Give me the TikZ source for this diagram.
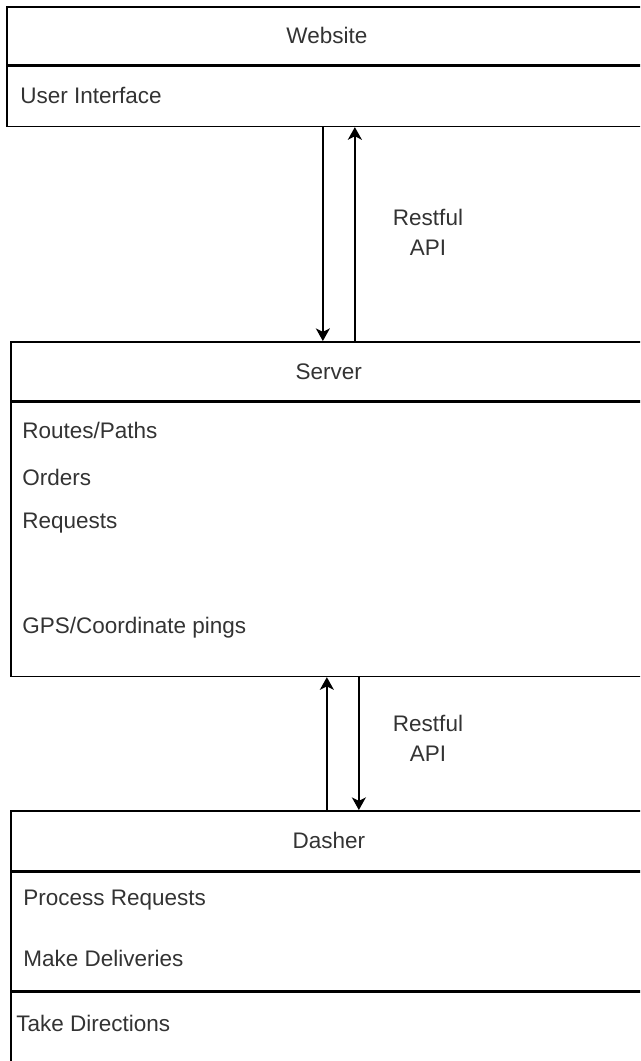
\documentclass[tikz,border=0pt]{standalone}
\usepackage{fontspec}
\setmainfont{Liberation Sans}
\usetikzlibrary{positioning, arrows.meta}
\tikzset{
    box/.style={draw, rectangle, inner sep=0pt, line width=1.1pt, anchor=north west, text=black!80},
    item/.style={anchor=west, inner sep=0pt, text=black!80},
    apilabel/.style={align=center, inner sep=0pt, text=black!80, font=\fontsize{16}{21.3}\selectfont},
    flow/.style={-{Stealth[length=9pt, width=10pt, inset=2.5pt]}, line width=1.1pt},
    every node/.append style={font=\fontsize{16}{20}\selectfont},
}
\begin{document}
\begin{tikzpicture}[x=0.025cm, y=-0.025cm]
    \useasboundingbox (0,0) rectangle (640,1061);
    \clip (0,0) rectangle (640,1061);

    % website
    \node[box, minimum width=16cm, minimum height=1.45cm] (w0) at (6,6) {Website};
    \node[box, minimum width=16cm, minimum height=1.5cm, below=0pt of w0] (w1) {};
    \node[item] (w1a) at (20,95) {User Interface};

    % server
    \node[box, minimum width=15.9cm, minimum height=1.475cm] (s0) at (10,341) {Server};
    \node[box, minimum width=15.9cm, minimum height=6.85cm, below=0pt of s0] (s1) {};
    \node[item] (s1a) at (22,430) {Routes/Paths};
    \node[item] (s1b) at (22,477) {Orders};
    \node[item] (s1c) at (22,523) {Requests};
    \node[item] (s1d) at (22,628) {GPS/Coordinate pings};

    % dasher
    \node[box, minimum width=15.9cm, minimum height=1.5cm] (d0) at (10,810) {Dasher};
    \node[box, minimum width=15.9cm, minimum height=2.95cm, below=0pt of d0] (d1) {};
    \node[box, minimum width=15.9cm, minimum height=2.5cm, below=0pt of d1] (d2) {};
    \node[item] (d1a) at (23,900) {Process Requests};
    \node[item] (d1b) at (23,958) {Make Deliveries};
    \node[item] (d2a) at (16,1023) {Take Directions};

    % website <-> server
    \coordinate (a1) at ([xshift=-0.1cm]w1.south);
    \coordinate (a2) at ([xshift=0.7cm]w1.south);
    \draw[flow] (a1) -- (a1 |- s0.north);
    \draw[flow] (a2 |- s0.north) -- (a2);
    \node[apilabel] (api1) at (428,232) {Restful\\API};

    % server <-> dasher
    \coordinate (b1) at ([xshift=-0.05cm]s1.south);
    \coordinate (b2) at ([xshift=0.75cm]s1.south);
    \draw[flow] (b1 |- d0.north) -- (b1);
    \draw[flow] (b2) -- (b2 |- d0.north);
    \node[apilabel] (api2) at (428,738) {Restful\\API};
\end{tikzpicture}
\end{document}
